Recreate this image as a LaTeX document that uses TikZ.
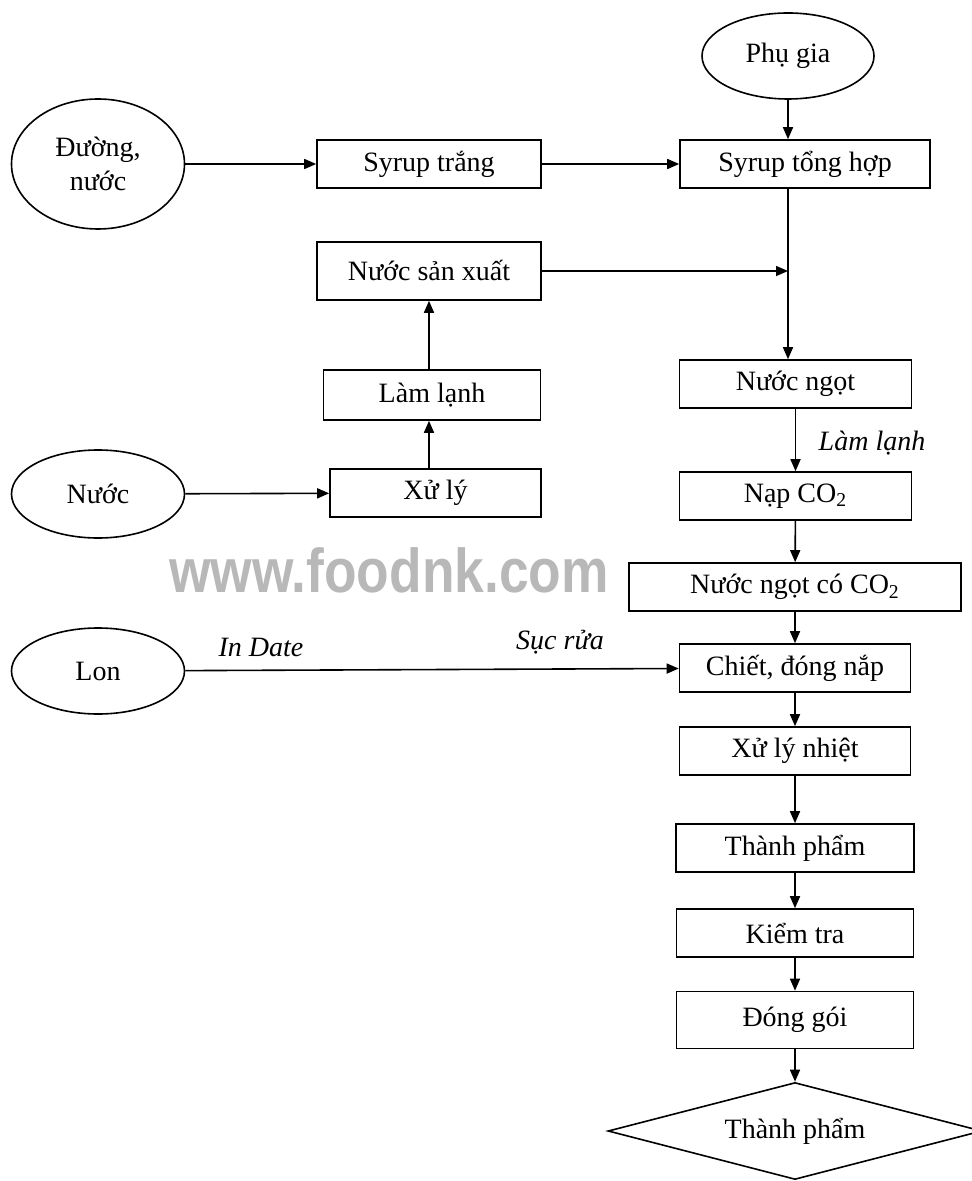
\documentclass[tikz,border=0pt]{standalone}
\usepackage{fontspec}
\setmainfont{Liberation Serif}
\newfontfamily\markfont{Liberation Sans}
\usetikzlibrary{shapes.geometric,arrows.meta}

\tikzset{
    box/.style={draw, thick, rectangle, inner sep=0pt, minimum height=24pt},
    source/.style={draw, thick, ellipse, inner sep=0pt, align=center},
    note/.style={font=\fontsize{14}{17}\selectfont\itshape},
    arr/.style={thick, ->, >={Triangle[length=6pt,width=5pt]}}
}

\begin{document}
\begin{tikzpicture}[x=0.5pt, y=-0.5pt, font=\fontsize{14}{17}\selectfont]
    \useasboundingbox (0,0) rectangle (972,1181);

    % Watermark
    \node[text=black!28, font=\markfont\fontsize{31}{31}\selectfont\bfseries, xscale=0.86] (mark) at (389,570) {www.foodnk.com};

    % Sources
    \node[source, minimum width=86.5pt, minimum height=65pt] (duong) at (98,164) {Đường,\\nước};
    \node[source, minimum width=86pt, minimum height=43pt] (phugia) at (788,56) {Phụ gia};
    \node[source, minimum width=86.5pt, minimum height=44pt] (nuoc) at (98,494) {Nước};
    \node[source, minimum width=86.5pt, minimum height=43pt] (lon) at (98,671) {Lon};

    % Left column
    \node[box, minimum width=112pt] (trang) at (429,164) {Syrup trắng};
    \node[box, minimum width=112pt, minimum height=29pt] (nsx) at (429,271) {Nước sản xuất};
    \node[box, minimum width=108.5pt, minimum height=25pt] (lamlanh) at (432,395) {Làm lạnh};
    \node[box, minimum width=105.5pt] (xuly) at (435.5,493) {Xử lý};

    % Right column
    \node[box, minimum width=125pt] (tonghop) at (805,164) {Syrup tổng hợp};
    \node[box, minimum width=116pt] (nuocngot) at (795.5,384) {Nước ngọt};
    \node[box, minimum width=116pt] (napco) at (795.5,496) {Nạp CO\textsubscript{2}};
    \node[box, minimum width=166pt] (coco) at (795,587) {Nước ngọt có CO\textsubscript{2}};
    \node[box, minimum width=115.5pt] (chiet) at (795,668) {Chiết, đóng nắp};
    \node[box, minimum width=115.5pt] (nhiet) at (795,751) {Xử lý nhiệt};
    \node[box, minimum width=119pt] (thanhpham) at (795,848) {Thành phẩm};
    \node[box, minimum width=118.5pt] (kiemtra) at (795,933) {Kiểm tra};
    \node[box, minimum width=118.5pt, minimum height=28.5pt] (donggoi) at (795,1020) {Đóng gói};
    \node[draw, thick, diamond, aspect=3.86, inner sep=0pt, minimum width=187pt, minimum height=48.5pt] (ketqua) at (795,1131) {Thành phẩm};

    % Syrup
    \draw[arr] (duong) -- (trang);
    \draw[arr] (trang) -- (tonghop);
    \draw[arr] (phugia) -- (phugia |- tonghop.north);
    \draw[arr] (tonghop.south -| phugia) -- (nuocngot.north -| phugia);

    % Water
    \coordinate (hop) at (nsx.east -| phugia);
    \draw[arr] (nuoc) -- (xuly);
    \draw[arr] (xuly.north -| nsx) -- (lamlanh.south -| nsx);
    \draw[arr] (lamlanh.north -| nsx) -- (nsx);
    \draw[arr] (nsx) -- (hop);

    % Main line
    \draw[arr] (nuocngot) -- (napco);
    \node[note] (lbllanh) at (872,443) {Làm lạnh};
    \draw[arr] (napco) -- (coco);
    \draw[arr] (coco) -- (chiet);
    \draw[arr] (lon) -- (chiet);
    \node[note] (lbldate) at (261,647) {In Date};
    \node[note] (lblrua) at (560,642) {Sục rửa};
    \draw[arr] (chiet) -- (nhiet);
    \draw[arr] (nhiet) -- (thanhpham);
    \draw[arr] (thanhpham) -- (kiemtra);
    \draw[arr] (kiemtra) -- (donggoi);
    \draw[arr] (donggoi) -- (ketqua);
\end{tikzpicture}
\end{document}
